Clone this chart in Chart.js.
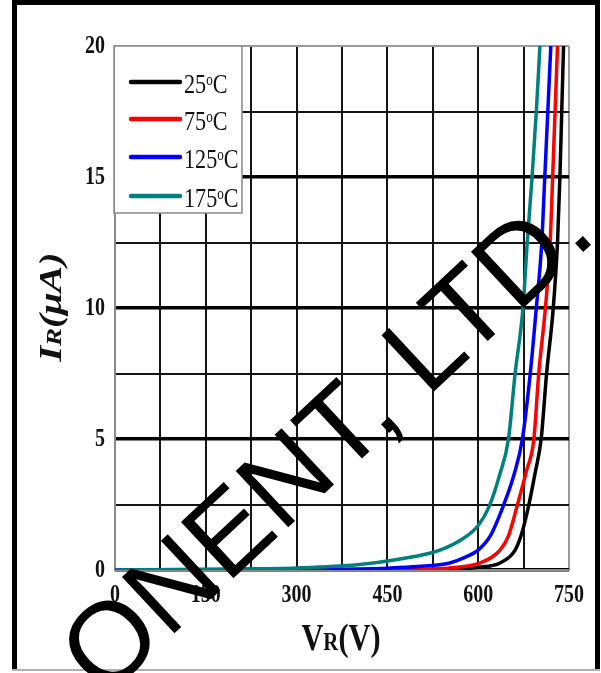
<!DOCTYPE html>
<html>
<head>
<meta charset="utf-8">
<script src="https://cdn.jsdelivr.net/npm/chart.js@4.4.0/dist/chart.umd.min.js"></script>
<style>
  html, body { margin: 0; padding: 0; background: #fff; }
  #wrap { width: 601px; height: 673px; }
</style>
</head>
<body>
<div id="wrap"><canvas id="irChart" width="601" height="673"></canvas></div>
<script>
// Reverse current vs reverse voltage, four junction temperatures
const seriesLabels = ['25°C', '75°C', '125°C', '175°C'];
const seriesColors = ['#000000', '#ff0000', '#0000ff', '#00807c'];

const v25 = [0, 500, 550, 600, 636, 661, 672, 683, 694, 704, 713, 724, 731, 735, 738, 741];
const i25 = [0, 0.01, 0.03, 0.1, 0.27, 0.76, 1.4, 2.42, 3.7, 5, 7.5, 10, 12.5, 15, 17.5, 20];

const v75 = [0, 450, 500, 550, 603, 636, 650, 664, 680, 692, 700, 711, 719, 723, 727, 731];
const i75 = [0, 0.01, 0.03, 0.07, 0.27, 0.76, 1.3, 2.42, 3.8, 5, 7.5, 10, 12.5, 15, 17.5, 20];

const v125 = [0, 300, 400, 450, 500, 553, 580, 600, 620, 641, 660, 673, 686, 696, 705, 710, 715, 720];
const i125 = [0, 0.01, 0.04, 0.07, 0.13, 0.27, 0.5, 0.76, 1.3, 2.42, 3.7, 5, 7.5, 10, 12.5, 15, 17.5, 20];

const v175 = [0, 100, 200, 300, 400, 471, 537, 575, 600, 618, 635, 650, 661, 674, 681, 689, 696, 702];
const i175 = [0, 0.02, 0.04, 0.08, 0.2, 0.42, 0.76, 1.2, 1.7, 2.42, 3.6, 5, 7.5, 10, 12.5, 15, 17.5, 20];

const xMin = 0, xMax = 750, xStep = 75, xLabelEvery = 150;
const yMin = 0, yMax = 20, yStep = 2.5, yLabelEvery = 5;

const xTitle = ['V', 'R', '(V)'];
const yTitle = ['I', 'R', '(μA)'];
const watermark = 'ONENT, LTD.';

const SERIF = '"Liberation Serif", "Times New Roman", serif';

function toPoints(xs, ys) {
    return xs.map((x, i) => ({ x: x, y: ys[i] }));
}

const allX = [v25, v75, v125, v175];
const allY = [i25, i75, i125, i175];

const datasets = seriesLabels.map((lab, k) => ({
    label: lab,
    data: toPoints(allX[k], allY[k]),
    borderColor: seriesColors[k],
    borderWidth: 3.5,
    pointRadius: 0,
    fill: false,
    cubicInterpolationMode: 'monotone',
    order: seriesLabels.length - k   // hottest curve on top
}));

// draw a list of text pieces, big / small / big, on one baseline
function drawPieces(ctx, pieces, bigFont, smallFont) {
    const widths = pieces.map((p, i) => {
        ctx.font = (i === 1 ? smallFont : bigFont);
        return ctx.measureText(p).width;
    });
    const total = widths.reduce((a, b) => a + b, 0);
    let x = -total / 2;
    pieces.forEach((p, i) => {
        ctx.font = (i === 1 ? smallFont : bigFont);
        ctx.fillText(p, x, 0);
        x += widths[i];
    });
}

const framePlugin = {
    id: 'frame',
    beforeDraw(chart) {
        const ctx = chart.ctx;
        ctx.save();
        ctx.fillStyle = '#fff';
        ctx.fillRect(0, 0, chart.width, chart.height);
        ctx.strokeStyle = '#000';
        ctx.lineWidth = 5;
        ctx.beginPath();
        ctx.moveTo(14.5, 670);
        ctx.lineTo(14.5, 2.5);
        ctx.lineTo(597.5, 2.5);
        ctx.lineTo(597.5, 670);
        ctx.stroke();
        ctx.strokeStyle = '#b0b0b0';
        ctx.lineWidth = 2;
        ctx.beginPath();
        ctx.moveTo(12, 670);
        ctx.lineTo(600, 670);
        ctx.stroke();
        ctx.restore();
    },
    afterDraw(chart) {
        const ctx = chart.ctx;
        const xs = chart.scales.x, ys = chart.scales.y;

        // tick labels (narrow bold serif, like the scanned sheet)
        ctx.save();
        ctx.fillStyle = '#111';
        ctx.font = 'bold 25px ' + SERIF;
        ctx.textBaseline = 'middle';
        ys.ticks.forEach(t => {
            if (t.value % yLabelEvery !== 0) return;
            const py = ys.getPixelForValue(t.value);
            ctx.save();
            ctx.translate(105, py);
            ctx.scale(0.8, 1);
            ctx.textAlign = 'right';
            ctx.fillText(String(t.value), 0, 1);
            ctx.restore();
        });
        xs.ticks.forEach(t => {
            if (t.value % xLabelEvery !== 0) return;
            const px = xs.getPixelForValue(t.value);
            ctx.save();
            ctx.translate(px, 595);
            ctx.scale(0.8, 1);
            ctx.textAlign = 'center';
            ctx.fillText(String(t.value), 0, 1);
            ctx.restore();
        });
        ctx.restore();

        // axis titles
        ctx.save();
        ctx.fillStyle = '#111';
        ctx.textAlign = 'left';
        ctx.textBaseline = 'alphabetic';
        ctx.translate(341, 650);
        ctx.scale(0.8, 1);
        drawPieces(ctx, xTitle, 'bold 38px ' + SERIF, 'bold 26px ' + SERIF);
        ctx.restore();

        ctx.save();
        ctx.fillStyle = '#111';
        ctx.textAlign = 'left';
        ctx.textBaseline = 'alphabetic';
        ctx.translate(51, 307);
        ctx.scale(0.8, 1);
        ctx.rotate(-Math.PI / 2);
        ctx.translate(0, 13);
        drawPieces(ctx, yTitle, 'italic bold 40px ' + SERIF, 'italic bold 27px ' + SERIF);
        ctx.restore();

        // legend box inside the plot, top-left
        const area = chart.chartArea;
        ctx.save();
        ctx.fillStyle = '#fff';
        ctx.strokeStyle = '#8a8a8a';
        ctx.lineWidth = 1.5;
        ctx.fillRect(area.left, area.top, 127, 167);
        ctx.strokeRect(area.left - 1, area.top, 128, 167);
        const rowY = [82, 119, 157, 196];
        chart.data.datasets.forEach((ds, k) => {
            const y = rowY[k];
            ctx.strokeStyle = ds.borderColor;
            ctx.lineWidth = 4.5;
            ctx.lineCap = 'round';
            ctx.beginPath();
            ctx.moveTo(131, y);
            ctx.lineTo(180, y);
            ctx.stroke();
            const num = ds.label.replace('°C', '');
            ctx.fillStyle = '#111';
            ctx.textAlign = 'left';
            ctx.textBaseline = 'alphabetic';
            ctx.save();
            ctx.translate(184, y + 11);
            ctx.scale(0.82, 1);
            ctx.font = '27px ' + SERIF;
            ctx.fillText(num, 0, 0);
            let w = ctx.measureText(num).width;
            ctx.font = '16px ' + SERIF;
            ctx.fillText('o', w, -8);
            w += ctx.measureText('o').width;
            ctx.font = '27px ' + SERIF;
            ctx.fillText('C', w, 0);
            ctx.restore();
        });
        ctx.restore();

        // diagonal watermark over the whole sheet
        ctx.save();
        ctx.fillStyle = '#000';
        ctx.font = '112px "Liberation Sans", Arial, sans-serif';
        ctx.textAlign = 'left';
        ctx.textBaseline = 'alphabetic';
        ctx.translate(104, 699);
        ctx.rotate(-43 * Math.PI / 180);
        ctx.fillText(watermark, 0, 0);
        ctx.restore();
    }
};

new Chart(document.getElementById('irChart'), {
    type: 'line',
    data: { datasets: datasets },
    options: {
        responsive: false,
        animation: false,
        layout: { padding: { top: 46, right: 32, left: 0, bottom: 0 } },
        plugins: {
            legend: { display: false },
            tooltip: { enabled: false }
        },
        scales: {
            x: {
                type: 'linear',
                min: xMin,
                max: xMax,
                afterFit: s => { s.height = 103; },
                ticks: { stepSize: xStep, display: false },
                grid: {
                    drawTicks: false,
                    color: c => (c.tick && c.tick.value === xMax) ? '#9a9a9a' : '#151515',
                    lineWidth: 2
                },
                border: { color: '#8a8a8a', width: 2 }
            },
            y: {
                type: 'linear',
                min: yMin,
                max: yMax,
                afterFit: s => { s.width = 115; },
                ticks: { stepSize: yStep, display: false },
                grid: {
                    drawTicks: false,
                    color: c => {
                        if (!c.tick) return '#151515';
                        if (c.tick.value === yMax) return '#9a9a9a';
                        return c.tick.value % yLabelEvery === 0 ? '#000' : '#151515';
                    },
                    lineWidth: c => {
                        if (!c.tick || c.tick.value === yMax) return 2;
                        return c.tick.value % yLabelEvery === 0 ? 3.5 : 2;
                    }
                },
                border: { color: '#8a8a8a', width: 2 }
            }
        }
    },
    plugins: [framePlugin]
});
</script>
</body>
</html>
